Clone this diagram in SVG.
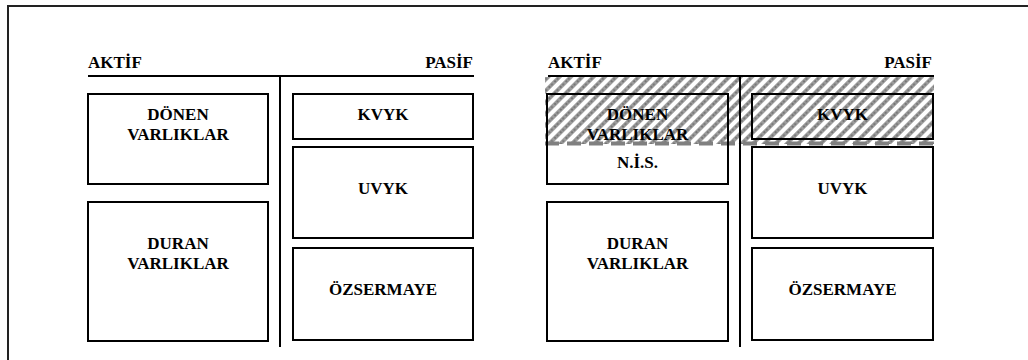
<svg xmlns="http://www.w3.org/2000/svg" width="1028" height="360" viewBox="0 0 1028 360">
  <style>
    .box { fill: #fff; stroke: #000; stroke-width: 2; }
    .edge { fill: none; stroke: #000; stroke-width: 2; }
    .ln { stroke: #000; stroke-width: 2; fill: none; }
    .t { font-family: "Liberation Serif", "Times New Roman", Tinos, "DejaVu Serif", serif; font-weight: bold; font-size: 17px; fill: #000; }
    .m { text-anchor: middle; }
    .e { text-anchor: end; }
  </style>
  <defs>
    <pattern id="hatch" patternUnits="userSpaceOnUse" width="8" height="8" patternTransform="rotate(45)">
      <rect x="0" y="0" width="4" height="8" fill="#9e9e9e"/>
      <line x1="2" y1="0" x2="2" y2="8" stroke="#444" stroke-width="0.9" stroke-dasharray="2 2.5"/>
    </pattern>
  </defs>
  <rect width="1028" height="360" fill="#fff"/>
  <!-- outer frame -->
  <path d="M8,362 V6 H1030" fill="none" stroke="#222" stroke-width="2"/>

  <!-- hatched current area -->
  <g id="hatched-area">
    <rect x="545" y="77" width="389" height="67" fill="url(#hatch)"/>
    <line x1="545" y1="143.5" x2="934" y2="143.5" stroke="#808080" stroke-width="4" stroke-dasharray="14 8"/>
  </g>

  <!-- Left panel -->
  <g id="left-header">
    <text class="t" x="88" y="68">AKTİF</text>
    <text class="t e" x="473" y="68">PASİF</text>
  </g>
  <g id="left-donen">
    <rect class="box" x="88" y="94" width="180" height="90"/>
    <text class="t m" x="178" y="120">DÖNEN</text>
    <text class="t m" x="178" y="140">VARLIKLAR</text>
  </g>
  <g id="left-duran">
    <rect class="box" x="88" y="202" width="180" height="139"/>
    <text class="t m" x="178" y="249">DURAN</text>
    <text class="t m" x="178" y="269">VARLIKLAR</text>
  </g>
  <g id="left-kvyk">
    <rect class="box" x="293" y="94" width="180" height="45"/>
    <text class="t m" x="383" y="120">KVYK</text>
  </g>
  <g id="left-uvyk">
    <rect class="box" x="293" y="147" width="180" height="91"/>
    <text class="t m" x="383" y="194">UVYK</text>
  </g>
  <g id="left-ozsermaye">
    <rect class="box" x="293" y="248" width="180" height="92"/>
    <text class="t m" x="383" y="295">ÖZSERMAYE</text>
  </g>

  <!-- Right panel -->
  <g id="right-header">
    <text class="t" x="548" y="68">AKTİF</text>
    <text class="t e" x="932" y="68">PASİF</text>
  </g>
  <g id="right-donen">
    <rect class="edge" x="547" y="94" width="181" height="90"/>
    <text class="t m" x="637.5" y="120">DÖNEN</text>
    <text class="t m" x="637.5" y="140">VARLIKLAR</text>
    <text class="t m" x="637.5" y="168">N.İ.S.</text>
  </g>
  <g id="right-duran">
    <rect class="box" x="547" y="202" width="181" height="139"/>
    <text class="t m" x="637.5" y="249">DURAN</text>
    <text class="t m" x="637.5" y="269">VARLIKLAR</text>
  </g>
  <g id="right-kvyk">
    <rect class="edge" x="752" y="94" width="181" height="45"/>
    <text class="t m" x="842.5" y="120">KVYK</text>
  </g>
  <g id="right-uvyk">
    <rect class="box" x="752" y="147" width="181" height="91"/>
    <text class="t m" x="842.5" y="194">UVYK</text>
  </g>
  <g id="right-ozsermaye">
    <rect class="box" x="752" y="248" width="181" height="92"/>
    <text class="t m" x="842.5" y="295">ÖZSERMAYE</text>
  </g>

  <g id="connectors">
    <line class="ln" x1="88" y1="76" x2="474" y2="76"/>
    <line class="ln" x1="280" y1="76" x2="280" y2="347"/>
    <line class="ln" x1="548" y1="76" x2="934" y2="76"/>
    <line class="ln" x1="740" y1="76" x2="740" y2="347"/>
  </g>
</svg>
